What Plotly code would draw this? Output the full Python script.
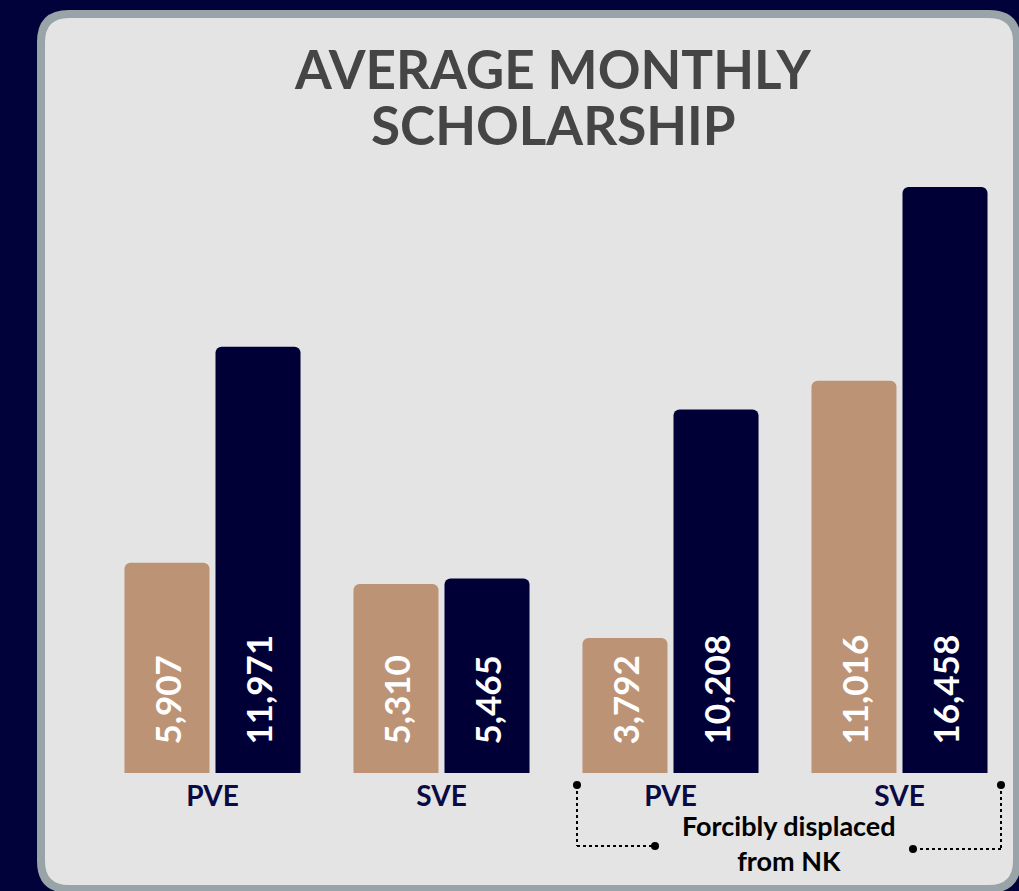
import plotly.graph_objects as go

categories = ["PVE", "SVE", "PVE ", "SVE "]
tick_labels = ["PVE", "SVE", "PVE", "SVE"]
series_a = [5907, 5310, 3792, 11016]
series_b = [11971, 5465, 10208, 16458]
title_lines = ["AVERAGE MONTHLY", "SCHOLARSHIP"]
group_note = "Forcibly displaced<br>from NK"

W, H = 1019, 891
ML, MR, MT, MB = 98, 5, 150, 118
PW, PH = W - ML - MR, H - MT - MB

BG = "#02023a"
NAVY = "#000037"
TAN = "#bd9376"
CARD = "#e4e4e4"
BORDER = "#98a4a8"
FONT = "Lato"

def px(x):
    return (x - ML) / PW

def py(y):
    return (H - MB - y) / PH

pad = "\u00a0" * 3

fig = go.Figure()
for vals, col in [(series_a, TAN), (series_b, NAVY)]:
    fig.add_trace(go.Bar(
        x=categories, y=vals, marker=dict(color=col, line=dict(width=0)),
        text=[pad + f"{v:,}" for v in vals], textposition="inside",
        insidetextanchor="start", textangle=-90,
        textfont=dict(family=FONT, size=35, color="white", weight="bold"),
        cliponaxis=False, hoverinfo="skip",
    ))

# card
x0, x1, y0, y1, r = 41, 1017, 14, 889, 28
path = (f"M {px(x0+r)},{py(y0)} L {px(x1-r)},{py(y0)} "
        f"Q {px(x1)},{py(y0)} {px(x1)},{py(y0+r)} "
        f"L {px(x1)},{py(y1-r)} Q {px(x1)},{py(y1)} {px(x1-r)},{py(y1)} "
        f"L {px(x0+r)},{py(y1)} Q {px(x0)},{py(y1)} {px(x0)},{py(y1-r)} "
        f"L {px(x0)},{py(y0+r)} Q {px(x0)},{py(y0)} {px(x0+r)},{py(y0)} Z")
shapes = [dict(type="path", path=path, xref="paper", yref="paper",
               fillcolor=CARD, line=dict(color=BORDER, width=8), layer="below")]

# bracket
def dline(a, b, c, d):
    return dict(type="line", xref="paper", yref="paper", x0=px(a), y0=py(b),
                x1=px(c), y1=py(d), line=dict(color="black", width=2, dash="dot"))

shapes += [dline(577, 785, 577, 846), dline(577, 846, 655, 846),
           dline(1001, 785, 1001, 849), dline(1001, 849, 913, 849)]
for cx, cy in [(577, 785), (655, 846), (1001, 785), (913, 849)]:
    rr = 4
    shapes.append(dict(type="circle", xref="paper", yref="paper",
                       x0=px(cx - rr), x1=px(cx + rr), y0=py(cy - rr), y1=py(cy + rr),
                       fillcolor="black", line=dict(width=0)))

annotations = [
    dict(text=title_lines[0], x=px(553), y=py(69), xref="paper", yref="paper",
         showarrow=False, xanchor="center", yanchor="middle",
         font=dict(family=FONT, size=53, color="#454545", weight="bold")),
    dict(text=title_lines[1], x=px(553), y=py(124), xref="paper", yref="paper",
         showarrow=False, xanchor="center", yanchor="middle",
         font=dict(family=FONT, size=53, color="#454545", weight="bold")),
    dict(text=group_note, x=px(789), y=py(843), xref="paper", yref="paper",
         showarrow=False, xanchor="center", yanchor="middle",
         font=dict(family=FONT, size=27, color="black", weight="bold")),
]

fig.update_layout(
    width=W, height=H, margin=dict(l=ML, r=MR, t=MT, b=MB),
    paper_bgcolor=BG, plot_bgcolor="rgba(0,0,0,0)",
    barmode="group", bargap=0.205, bargroupgap=0.066, barcornerradius=6,
    showlegend=False, shapes=shapes, annotations=annotations,
    xaxis=dict(tickmode="array", tickvals=categories, ticktext=tick_labels,
               tickfont=dict(family=FONT, size=28, color="#0a0a45", weight="bold"),
               ticklabelstandoff=4,
               showgrid=False, zeroline=False, showline=False, ticks=""),
    yaxis=dict(range=[0, 17500], visible=False, showgrid=False, zeroline=False),
    font=dict(family=FONT),
)

fig.write_html("out.html", config={"displayModeBar": False},
               post_script="document.body.style.margin='0';document.body.style.background='" + BG + "';")
